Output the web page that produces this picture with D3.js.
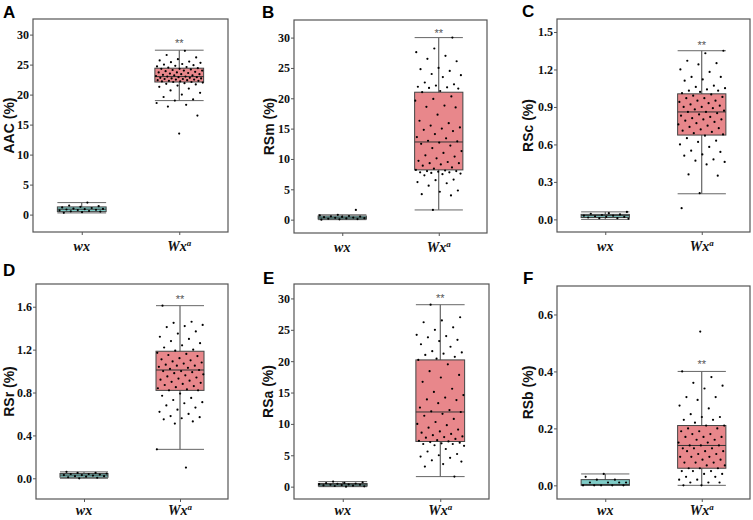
<!DOCTYPE html>
<html><head><meta charset="utf-8">
<script src="https://cdn.jsdelivr.net/npm/d3@7"></script>
<style>body{margin:0;background:#fff}svg{display:block}</style>
</head><body>
<svg id="c" width="753" height="520"></svg>
<script>
const categories = ["wx", "Wxa"];
const panelLetters = ["A","B","C","D","E","F"];
const yTitles = ["AAC (%)","RSm (%)","RSc (%)","RSr (%)","RSa (%)","RSb (%)"];

// tick labels
const ticksA = [0,5,10,15,20,25,30];
const ticksB = [0,5,10,15,20,25,30];
const ticksC = [0.0,0.3,0.6,0.9,1.2,1.5];
const ticksD = [0.0,0.4,0.8,1.2,1.6];
const ticksE = [0,5,10,15,20,25,30];
const ticksF = [0.0,0.2,0.4,0.6];

// box stats [lower whisker, q1, median, q3, upper whisker]
const boxA_wx = [0.28,0.5,0.9,1.28,2.0],   boxA_Wx = [19.0,22.1,23.0,24.4,27.4];
const boxB_wx = [0.0,0.1,0.3,0.6,0.8],     boxB_Wx = [1.6,8.2,12.8,21.0,30.0];
const boxC_wx = [0.0,0.015,0.03,0.04,0.06],boxC_Wx = [0.205,0.675,0.86,1.005,1.35];
const boxD_wx = [0.0,0.01,0.03,0.045,0.06],boxD_Wx = [0.27,0.82,1.01,1.185,1.61];
const boxE_wx = [0.0,0.1,0.3,0.5,0.8],     boxE_Wx = [1.6,7.2,11.9,20.2,29.0];
const boxF_wx = [0.0,0.0,0.003,0.02,0.04], boxF_Wx = [0.0,0.06,0.14,0.21,0.40];

// significance marker value
const signif = [28.8, 30.9, 1.40, 1.68, 30.2, 0.43];

// individual points
const ptsA_wx = [2.0,1.5,1.4,1.3,1.2,1.1,1.0,0.95,0.9,0.85,0.8,0.75,0.7,0.6,0.55,0.5,0.4,0.3];
const ptsA_Wx = [27.3,26.6,26.2,25.9,25.7,25.5,25.4,25.3,25.1,25.0,24.9,24.8,24.7,24.6,24.5,24.4,24.3,24.3,24.2,24.1,24.0,24.0,23.9,23.8,23.7,23.7,23.6,23.5,23.4,23.4,23.3,23.2,23.2,23.1,23.0,23.0,22.9,22.9,22.8,22.8,22.7,22.7,22.6,22.6,22.5,22.5,22.4,22.4,22.3,22.3,22.2,22.2,22.1,22.1,22.0,21.9,21.8,21.7,21.5,21.3,21.0,20.7,20.3,20.0,19.6,19.2,19.0,18.6,18.3,18.0,16.5,13.5];
const ptsB_wx = [1.6,0.8,0.7,0.6,0.55,0.5,0.45,0.4,0.35,0.3,0.25,0.2,0.15,0.1,0.05,0.0];
const ptsB_Wx = [30.0,28.2,27.6,27.0,26.5,26.1,25.0,24.8,24.5,24.0,23.8,23.5,22.6,22.3,22.1,21.9,21.8,21.7,21.6,21.2,21.0,20.3,19.9,19.6,18.8,18.6,18.5,17.3,16.3,15.9,15.5,15.2,15.0,14.8,14.6,14.1,13.6,13.4,13.0,12.9,12.7,12.5,12.2,11.8,11.3,11.0,10.6,10.4,10.1,9.7,9.5,9.3,9.3,9.1,8.9,8.6,8.4,8.2,8.1,8.0,8.0,7.9,7.8,7.8,7.7,7.6,7.5,7.3,6.6,6.5,6.2,6.0,5.6,4.8,4.6,4.2,4.0,1.6];
const ptsC_wx = [0.06,0.05,0.045,0.04,0.035,0.03,0.03,0.025,0.02,0.02,0.015,0.01,0.01,0.005];
const ptsC_Wx = [1.35,1.33,1.27,1.25,1.24,1.20,1.18,1.14,1.14,1.12,1.11,1.07,1.06,1.05,1.04,1.03,1.03,1.02,1.01,1.00,0.99,0.98,0.97,0.97,0.95,0.95,0.94,0.93,0.92,0.91,0.90,0.90,0.89,0.88,0.87,0.86,0.86,0.85,0.84,0.83,0.82,0.81,0.80,0.80,0.79,0.78,0.77,0.76,0.75,0.74,0.73,0.72,0.71,0.70,0.69,0.68,0.67,0.65,0.63,0.62,0.60,0.58,0.55,0.54,0.52,0.51,0.48,0.47,0.46,0.44,0.36,0.35,0.21,0.09];
const ptsD_wx = [0.06,0.05,0.05,0.045,0.04,0.04,0.035,0.03,0.03,0.025,0.02,0.02,0.015,0.01,0.005,0.0];
const ptsD_Wx = [1.61,1.46,1.45,1.43,1.42,1.41,1.37,1.35,1.32,1.30,1.28,1.26,1.24,1.22,1.20,1.19,1.17,1.16,1.15,1.14,1.12,1.11,1.10,1.09,1.08,1.07,1.06,1.05,1.05,1.04,1.03,1.02,1.01,1.00,1.00,0.99,0.98,0.97,0.96,0.95,0.94,0.93,0.92,0.91,0.90,0.89,0.88,0.87,0.86,0.85,0.84,0.83,0.82,0.82,0.79,0.77,0.75,0.73,0.71,0.70,0.68,0.66,0.64,0.62,0.60,0.58,0.57,0.56,0.55,0.53,0.51,0.27,0.10];
const ptsE_wx = [0.8,0.7,0.6,0.55,0.5,0.45,0.4,0.35,0.3,0.3,0.25,0.2,0.15,0.1,0.05,0.0];
const ptsE_Wx = [29.0,27.0,26.5,26.2,25.4,25.0,24.2,24.0,23.8,23.4,23.2,22.7,22.3,21.6,21.4,21.2,21.0,20.7,20.4,20.2,19.5,18.4,17.8,17.4,16.7,15.6,15.1,14.6,14.2,13.9,13.8,13.3,12.6,12.2,12.0,11.9,11.6,11.3,10.8,10.3,10.0,9.8,9.4,9.1,8.8,8.6,8.4,8.2,8.0,7.9,7.8,7.6,7.4,7.3,7.2,7.1,7.0,6.9,6.8,6.8,6.6,6.5,6.0,5.6,5.2,5.0,4.8,4.6,4.2,4.0,3.6,3.2,1.6];
const ptsF_wx = [0.04,0.03,0.02,0.02,0.01,0.01,0.01,0.01,0.0,0.0,0.0,0.0,0.0];
const ptsF_Wx = [0.54,0.40,0.38,0.36,0.35,0.34,0.31,0.31,0.30,0.28,0.27,0.25,0.24,0.24,0.23,0.23,0.22,0.21,0.21,0.20,0.20,0.19,0.19,0.18,0.18,0.17,0.17,0.17,0.16,0.16,0.15,0.15,0.14,0.14,0.14,0.13,0.13,0.13,0.12,0.12,0.12,0.11,0.11,0.10,0.10,0.10,0.09,0.09,0.08,0.08,0.08,0.07,0.07,0.06,0.06,0.06,0.05,0.05,0.05,0.04,0.04,0.03,0.03,0.02,0.02,0.01,0.01,0.01,0.0,0.0];

const panels = [
  {ticks:ticksA, fmt:d3.format("d"),  box:[boxA_wx,boxA_Wx], pts:[ptsA_wx,ptsA_Wx], dom:[-2.9,32.6]},
  {ticks:ticksB, fmt:d3.format("d"),  box:[boxB_wx,boxB_Wx], pts:[ptsB_wx,ptsB_Wx], dom:[-2.2,32.9]},
  {ticks:ticksC, fmt:d3.format(".1f"),box:[boxC_wx,boxC_Wx], pts:[ptsC_wx,ptsC_Wx], dom:[-0.101,1.604]},
  {ticks:ticksD, fmt:d3.format(".1f"),box:[boxD_wx,boxD_Wx], pts:[ptsD_wx,ptsD_Wx], dom:[-0.193,1.812]},
  {ticks:ticksE, fmt:d3.format("d"),  box:[boxE_wx,boxE_Wx], pts:[ptsE_wx,ptsE_Wx], dom:[-1.97,32.3]},
  {ticks:ticksF, fmt:d3.format(".1f"),box:[boxF_wx,boxF_Wx], pts:[ptsF_wx,ptsF_Wx], dom:[-0.048,0.70]}
];
// layout (pixel frames)
const frames = [
  {x0:33,x1:228,y0:19,y1:232, tx:9,   lx:3,   ly:18, ld:19},
  {x0:294,x1:487,y0:20,y1:233, tx:269, lx:262, ly:18, ld:19},
  {x0:557,x1:750,y0:19,y1:232, tx:528, lx:522, ly:17, ld:19},
  {x0:36,x1:228,y0:284,y1:499, tx:9,   lx:3,   ly:276, ld:16},
  {x0:294,x1:489,y0:284,y1:499, tx:268, lx:263, ly:284, ld:16},
  {x0:557,x1:750,y0:286,y1:499, tx:528, lx:523, ly:284, ld:16}
];
const fills = ["#7ECBC6","#E8878B"];
const svg = d3.select("#c");

panels.forEach((p,k)=>{
  const f = frames[k];
  const g = svg.append("g");
  const x = d3.scalePoint().domain(categories).range([f.x0,f.x1]).padding(0.5);
  const y = d3.scaleLinear().domain(p.dom).range([f.y1,f.y0]);
  const bw = (f.x1-f.x0)*0.25;

  const ya = g.append("g").attr("transform",`translate(${f.x0},0)`)
    .call(d3.axisLeft(y).tickValues(p.ticks).tickFormat(p.fmt).tickSize(3).tickPadding(1));
  ya.select(".domain").remove();
  ya.selectAll("line").attr("stroke","#555");
  ya.selectAll("text").attr("fill","#111").style("font-family","'Liberation Serif','Times New Roman',serif")
    .style("font-weight","bold").style("font-size","12px");
  const xa = g.append("g").attr("transform",`translate(0,${f.y1})`)
    .call(d3.axisBottom(x).tickSize(3).tickFormat(""));
  xa.select(".domain").remove();
  xa.selectAll("line").attr("stroke","#555");

  categories.forEach((c,ci)=>{
    const cx = x(c);
    const lab = g.append("text").attr("x",cx).attr("y",f.y1+f.ld).attr("text-anchor","middle")
      .style("font-family","'Liberation Serif','Times New Roman',serif").style("font-style","italic")
      .style("font-weight","bold").style("font-size","14px").attr("fill","#111");
    if (c==="Wxa"){ lab.text("Wx"); lab.append("tspan").attr("dy",-5).style("font-size","9px").text("a"); }
    else lab.text(c);

    const b = p.box[ci];
    g.append("line").attr("x1",cx).attr("x2",cx).attr("y1",y(b[0])).attr("y2",y(b[4])).attr("stroke","#444").attr("stroke-width",1);
    [b[0],b[4]].forEach(v=>g.append("line").attr("x1",cx-bw/2).attr("x2",cx+bw/2).attr("y1",y(v)).attr("y2",y(v)).attr("stroke","#666").attr("stroke-width",1));
    g.append("rect").attr("x",cx-bw/2).attr("width",bw).attr("y",y(b[3])).attr("height",Math.max(1,y(b[1])-y(b[3])))
      .attr("fill",fills[ci]).attr("stroke","#444").attr("stroke-width",1);
    g.append("line").attr("x1",cx-bw/2).attr("x2",cx+bw/2).attr("y1",y(b[2])).attr("y2",y(b[2])).attr("stroke","#333").attr("stroke-width",1);
    const pts = p.pts[ci];
    g.selectAll(null).data(pts).enter().append("circle")
      .attr("cx",(d,i)=>cx + ((((i+1)*0.6180339887 + k*0.17) % 1) - 0.5)*bw*0.98)
      .attr("cy",d=>y(d)).attr("r",1.1).attr("fill","#000");
  });
  g.append("text").attr("x",x("Wxa")).attr("y",y(signif[k])+5).attr("text-anchor","middle")
    .style("font-family","'Liberation Sans',Arial,sans-serif").style("font-size","11px").attr("fill","#555").text("**");
  g.append("rect").attr("x",f.x0).attr("y",f.y0).attr("width",f.x1-f.x0).attr("height",f.y1-f.y0)
    .attr("fill","none").attr("stroke","#555").attr("stroke-width",1.2);
  g.append("text").attr("transform",`translate(${f.tx+5},${(f.y0+f.y1)/2}) rotate(-90)`).attr("text-anchor","middle")
    .style("font-family","'Liberation Sans',Arial,sans-serif").style("font-weight","bold").style("font-size","14px")
    .attr("fill","#111").text(yTitles[k]);
  svg.append("text").attr("x",f.lx).attr("y",f.ly).style("font-family","'Liberation Sans',Arial,sans-serif")
    .style("font-weight","bold").style("font-size","17px").attr("fill","#000").text(panelLetters[k]);
});
</script>
</body></html>
